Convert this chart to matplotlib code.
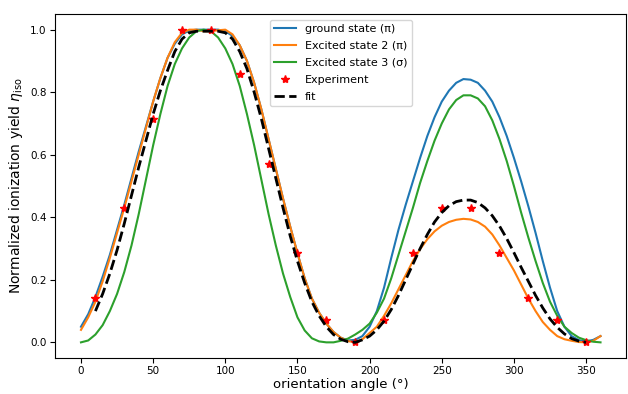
import matplotlib.pyplot as plt

# angle grid (degrees), 5 degree steps
angles = [0, 5, 10, 15, 20, 25, 30, 35, 40, 45, 50, 55, 60, 65, 70, 75, 80, 85, 90, 95,
          100, 105, 110, 115, 120, 125, 130, 135, 140, 145, 150, 155, 160, 165, 170, 175,
          180, 185, 190, 195, 200, 205, 210, 215, 220, 225, 230, 235, 240, 245, 250, 255,
          260, 265, 270, 275, 280, 285, 290, 295, 300, 305, 310, 315, 320, 325, 330, 335,
          340, 345, 350, 355, 360]

ground = [0.05, 0.09, 0.145, 0.21, 0.28, 0.36, 0.44, 0.525, 0.61, 0.69, 0.77, 0.845, 0.91,
          0.955, 0.985, 0.997, 1.0, 1.0, 1.0, 1.0, 0.995, 0.98, 0.95, 0.90, 0.83, 0.745, 0.65,
          0.555, 0.46, 0.37, 0.285, 0.205, 0.14, 0.095, 0.06, 0.033, 0.015, 0.006, 0.008, 0.02,
          0.05, 0.10, 0.175, 0.27, 0.36, 0.44, 0.515, 0.59, 0.66, 0.72, 0.77, 0.805, 0.83, 0.842,
          0.84, 0.83, 0.805, 0.77, 0.72, 0.66, 0.59, 0.515, 0.435, 0.35, 0.26, 0.175, 0.10,
          0.05, 0.02, 0.007, 0.003, 0.008, 0.02]

excited2 = [0.04, 0.08, 0.13, 0.195, 0.27, 0.35, 0.43, 0.515, 0.60, 0.685, 0.77, 0.845, 0.91,
            0.96, 0.99, 1.0, 1.0, 0.995, 0.995, 0.998, 1.0, 0.985, 0.95, 0.90, 0.83, 0.745,
            0.65, 0.555, 0.46, 0.37, 0.285, 0.205, 0.14, 0.095, 0.06, 0.033, 0.015, 0.004, 0.0,
            0.01, 0.03, 0.05, 0.085, 0.125, 0.17, 0.215, 0.26, 0.298, 0.33, 0.355, 0.373, 0.385,
            0.392, 0.395, 0.393, 0.385, 0.37, 0.345, 0.31, 0.27, 0.23, 0.185, 0.14, 0.10, 0.065,
            0.04, 0.02, 0.01, 0.005, 0.001, 0.0, 0.005, 0.02]

excited3 = [0.0, 0.006, 0.025, 0.055, 0.10, 0.155, 0.225, 0.31, 0.41, 0.52, 0.63, 0.73, 0.82,
            0.89, 0.94, 0.975, 0.995, 1.0, 0.995, 0.975, 0.94, 0.89, 0.82, 0.73, 0.63, 0.52,
            0.41, 0.31, 0.22, 0.145, 0.08, 0.038, 0.013, 0.003, 0.0, 0.0, 0.005, 0.012, 0.025,
            0.04, 0.06, 0.095, 0.14, 0.205, 0.28, 0.355, 0.43, 0.51, 0.58, 0.645, 0.70, 0.745,
            0.775, 0.79, 0.79, 0.78, 0.755, 0.71, 0.65, 0.58, 0.50, 0.415, 0.335, 0.26, 0.19,
            0.13, 0.085, 0.05, 0.03, 0.015, 0.007, 0.002, 0.0]

# experiment
exp_angles = [10, 30, 50, 70, 90, 110, 130, 150, 170, 190, 210, 230, 250, 270, 290, 310, 330, 350]
exp_yield = [0.143, 0.429, 0.714, 1.0, 1.0, 0.857, 0.571, 0.286, 0.071, 0.0, 0.071, 0.286,
             0.429, 0.429, 0.286, 0.143, 0.071, 0.0]

# fit
fit_angles = angles[2:-2]
fit_yield = [0.10, 0.155, 0.22, 0.295, 0.38, 0.47, 0.56, 0.645, 0.73, 0.805, 0.87, 0.93, 0.97,
             0.99, 0.995, 0.995, 0.995, 0.995, 0.99, 0.97, 0.93, 0.875, 0.80, 0.715, 0.62, 0.525,
             0.43, 0.34, 0.26, 0.19, 0.13, 0.085, 0.05, 0.025, 0.01, 0.002, 0.0, 0.008, 0.02,
             0.04, 0.068, 0.105, 0.15, 0.20, 0.25, 0.30, 0.345, 0.385, 0.415, 0.437, 0.45, 0.455,
             0.455, 0.447, 0.43, 0.405, 0.372, 0.332, 0.287, 0.24, 0.195, 0.15, 0.11, 0.075,
             0.048, 0.027, 0.012, 0.004, 0.0]

fig = plt.figure(figsize=(6.28, 3.94), dpi=100)
ax = fig.add_axes([0.0876, 0.0914, 0.91, 0.873])

ax.plot(angles, ground, label="ground state (π)", color="#1f77b4", lw=1.5)
ax.plot(angles, excited2, label="Excited state 2 (π)", color="#ff7f0e", lw=1.5)
ax.plot(angles, excited3, label="Excited state 3 (σ)", color="#2ca02c", lw=1.5)
ax.plot(exp_angles, exp_yield, "*", color="red", markersize=6, label="Experiment")
ax.plot(fit_angles, fit_yield, "--", color="black", lw=2, label="fit")

ax.set_xlabel("orientation angle (°)", fontsize=9.5, labelpad=1)
ax.set_ylabel(r"Normalized ionization yield $\eta_{\rm iso}$", fontsize=10)
ax.tick_params(labelsize=7.5, pad=2.5)
ax.set_xticks([0, 50, 100, 150, 200, 250, 300, 350])
ax.legend(loc="upper center", fontsize=8, labelspacing=0.62)

fig.savefig("out.png", dpi=100)
